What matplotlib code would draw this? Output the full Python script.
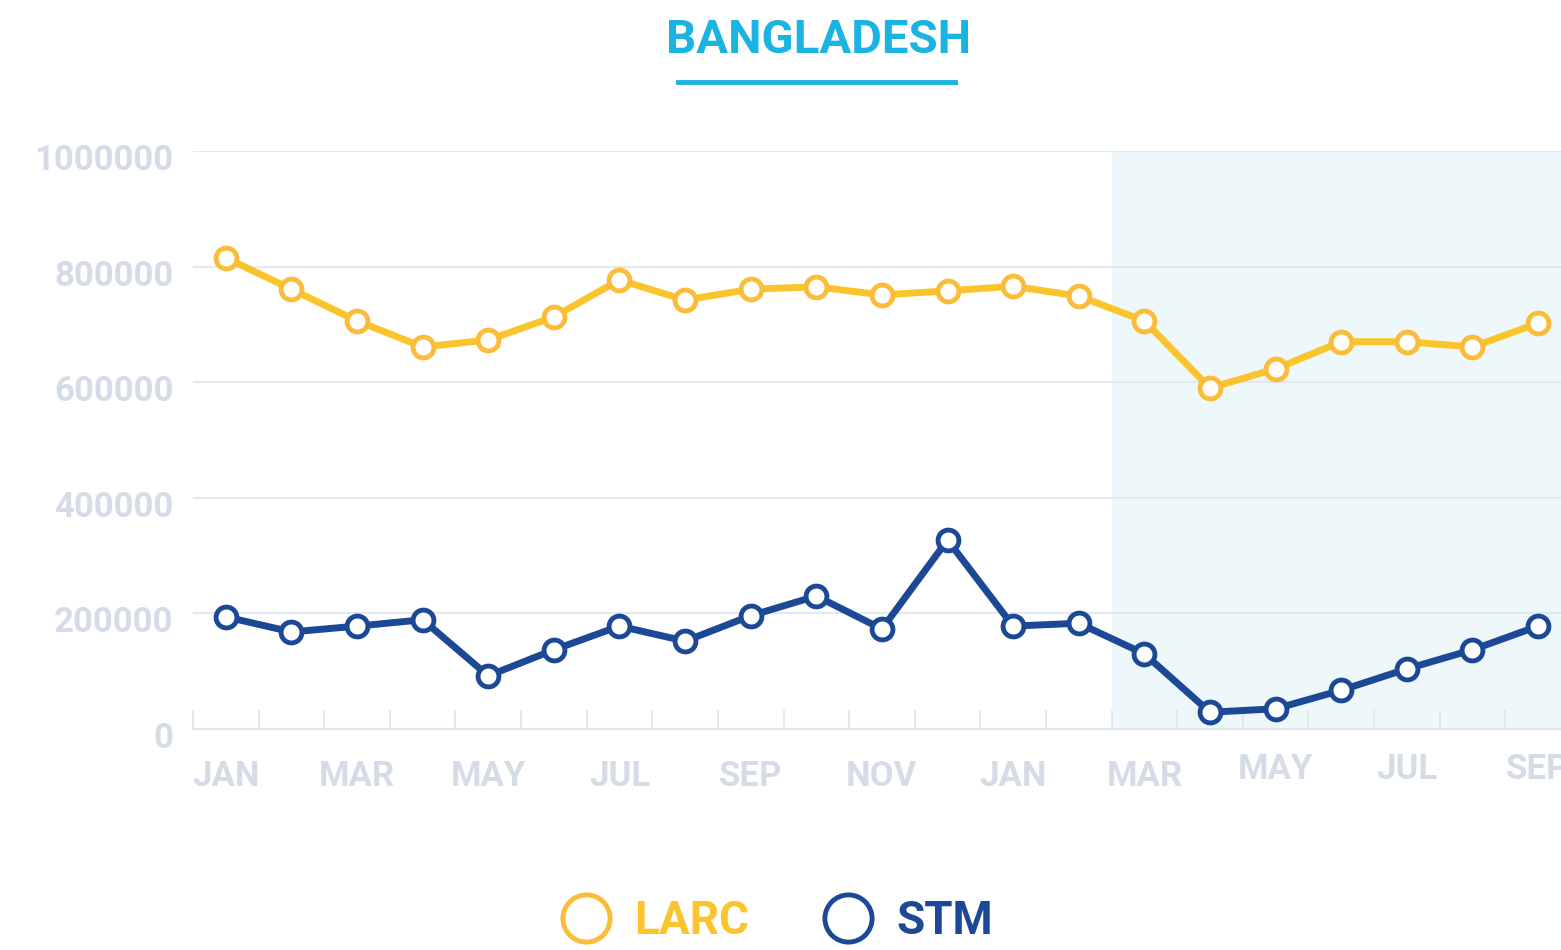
import numpy as np
import matplotlib.pyplot as plt
from matplotlib.lines import Line2D
from matplotlib.transforms import ScaledTranslation

plt.rcParams['font.family'] = ['Roboto', 'DejaVu Sans']

months = ["JAN", "FEB", "MAR", "APR", "MAY", "JUN", "JUL", "AUG", "SEP", "OCT", "NOV", "DEC",
          "JAN", "FEB", "MAR", "APR", "MAY", "JUN", "JUL", "AUG", "SEP"]
larc = [815000, 761000, 706000, 661000, 673000, 713000, 777000, 742000, 761000, 765000, 751000,
        758000, 766000, 749000, 706000, 590000, 623000, 670000, 670000, 661000, 702000]
stm = [194000, 168000, 178000, 189000, 92000, 137000, 178000, 152000, 196000, 230000, 173000,
       327000, 178000, 183000, 130000, 29000, 35000, 67000, 104000, 137000, 178000]
yticks = [0, 200000, 400000, 600000, 800000, 1000000]
shade_start = 13.5

YELLOW = "#fac52c"
YELLOW_EDGE = "#fbbc39"
NAVY = "#1c4996"
BLUE = "#1bb3e1"
GREY = "#d6dce7"
GRID = "#dfe4ec"

fig = plt.figure(figsize=(15.61, 9.5), dpi=100)
ax = fig.add_axes([193 / 1561, 221 / 950, 1 - 193 / 1561, 578 / 950])

x = np.arange(len(months))
ax.axvspan(shade_start, 30, color="#eef7fa", zorder=0, lw=0)

ax.plot(x, larc, color=YELLOW, lw=5, marker="o", ms=15, mfc="white",
        mec=YELLOW_EDGE, mew=3.5, zorder=3, clip_on=False)
ax.plot(x, stm, color=NAVY, lw=5, marker="o", ms=15, mfc="white",
        mec=NAVY, mew=3.5, zorder=3, clip_on=False)

ax.set_yticks(yticks)
ax.set_yticklabels([str(v) for v in yticks])
ax.yaxis.grid(True, color=GRID, lw=1.2)
ax.set_axisbelow(True)
ax.tick_params(axis="y", length=0, pad=14, labelsize=25, labelcolor=GREY)
for lab in ax.get_yticklabels():
    lab.set_fontweight("bold")
    lab.set_transform(lab.get_transform() + ScaledTranslation(0, -6 / 100, fig.dpi_scale_trans))

ax.set_xticks(x[::2])
ax.set_xticklabels(months[::2])
ax.set_xticks(np.arange(-0.5, 21, 1), minor=True)
ax.tick_params(axis="x", which="major", length=0, pad=22, labelsize=25, labelcolor=GREY)
ax.tick_params(axis="x", which="minor", direction="in", length=14, width=1.2, color=GRID)
for i, lab in enumerate(ax.get_xticklabels()):
    lab.set_fontweight("bold")
    if i >= 8:
        lab.set_transform(lab.get_transform() + ScaledTranslation(0, 7 / 100, fig.dpi_scale_trans))

ax.set_xlim(-0.5, 20.35)
ax.set_ylim(0, 1000000)

for s in ["top", "right", "left"]:
    ax.spines[s].set_visible(False)
ax.spines["bottom"].set_color(GRID)
ax.spines["bottom"].set_linewidth(1.5)

fig.text(818 / 1561, 1 - 40 / 950, "BANGLADESH", color=BLUE, fontsize=34,
         fontweight="bold", ha="center", va="center")
fig.add_artist(Line2D([678 / 1561, 955 / 1561], [1 - 82 / 950, 1 - 82 / 950],
                      color=BLUE, lw=3.5))

handles = [Line2D([], [], ls="none", marker="o", ms=34, mfc="white", mec=YELLOW_EDGE, mew=3.5),
           Line2D([], [], ls="none", marker="o", ms=34, mfc="white", mec=NAVY, mew=3.5)]
leg = fig.legend(handles, ["LARC", "STM"], loc="center", bbox_to_anchor=(777 / 1561, 29 / 950),
                 ncol=2, frameon=False, prop={"size": 33, "weight": "bold"},
                 handletextpad=0.5, columnspacing=1.6, handlelength=1.1)
for txt, c in zip(leg.get_texts(), [YELLOW, NAVY]):
    txt.set_color(c)

fig.savefig("out.png", dpi=100)
